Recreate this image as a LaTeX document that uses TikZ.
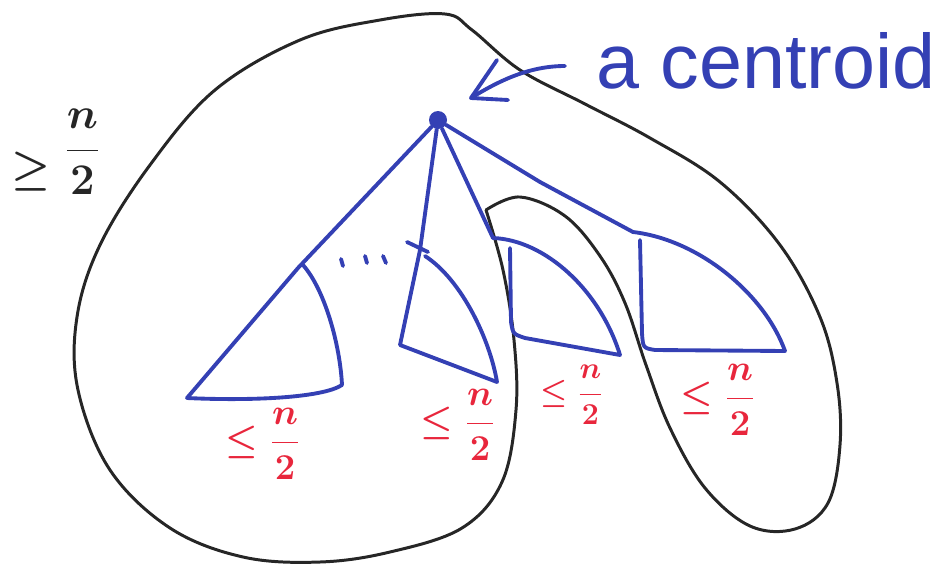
\documentclass[tikz,border=0pt]{standalone}
\usepackage{fontspec}
\newfontfamily\handfont{Liberation Sans}
\definecolor{penblue}{RGB}{52,64,180}
\definecolor{penred}{RGB}{232,38,60}
\definecolor{penblack}{RGB}{38,38,38}
\begin{document}
\begin{tikzpicture}[x=0.02cm,y=-0.02cm,
  blueline/.style={penblue, line width=2.2pt, line cap=round, line join=round},
  blackline/.style={penblack, line width=1.7pt, line cap=round, line join=round},
  redlabel/.style={text=penred, inner sep=0pt},
  blacklabel/.style={text=penblack, inner sep=0pt},
]
\useasboundingbox (0,0) rectangle (936,565);

% the black closed curve (outer region with the right-hand loop)
\draw[blackline] plot[smooth, tension=0.6] coordinates {
 (486,210) (503,270) (514,340) (516,410) (502,482) (462,528) (390,552)
 (320,562) (243,557) (170,528) (110,470) (78,390) (77,317) (100,245)
 (150,165) (215,90) (300,40) (380,20) (445,14) (472,30) (520,70)
 (585,104) (650,138) (720,182) (780,245) (820,317) (837,383) (840,445)
 (828,503) (795,529) (750,526) (705,488) (670,428) (646,365) (625,303)
 (600,256) (565,216) (520,197) (486,210)};

% centroid
\node[circle, fill=penblue, minimum size=0.36cm, inner sep=0pt] (c) at (438,120) {};

% branch tops
\coordinate (t1) at (298,268);
\coordinate (t2) at (420,250);
\coordinate (t3) at (493,238);
\coordinate (t4) at (633,232);

% subtree 1
\draw[blueline] (c) -- (t1) -- (187,398) .. controls (250,401) and (322,398) .. (342,385)
  .. controls (340,345) and (325,290) .. (303,265);
% subtree 2
\draw[blueline] (c) -- (t2) -- (400,345) -- (497,382)
  .. controls (490,340) and (462,280) .. (425,256);
\draw[blueline] (407,242) -- (428,252);
% dots
\draw[blueline] (341,259) -- (343,266);
\draw[blueline] (365,256) -- (367,263);
\draw[blueline] (383,256) -- (386,263);
% subtree 3
\draw[blueline] (c) -- (t3) .. controls (545,240) and (600,290) .. (620,355)
  -- (525,338) .. controls (513,334) .. (511,322) -- (510,248);
% subtree 4
\draw[blueline] (c) -- (540,182) -- (t4) .. controls (700,240) and (765,295) .. (785,351)
  -- (655,350) .. controls (643,348) .. (642,333) -- (640,240);

% arrow to the centroid
\coordinate (tip) at (471,98);
\coordinate (tail) at (565,66);
\coordinate (barbA) at (497,60);
\coordinate (barbB) at (508,100);
\draw[blueline] (tail) .. controls (530,66) and (500,80) .. (tip);
\draw[blueline] (barbA) -- (tip) -- (barbB);
\node[text=penblue, inner sep=0pt, anchor=base west,
  font=\handfont\fontsize{44}{50}\selectfont] (lab) at (596,88) {a centroid};

% red size labels
\node[redlabel, font=\fontsize{21}{25}\selectfont\boldmath] (r1) at (263,444) {$\displaystyle\leq\frac{n}{2}$};
\node[redlabel, font=\fontsize{20}{24}\selectfont\boldmath] (r2) at (458,425) {$\displaystyle\leq\frac{n}{2}$};
\node[redlabel, font=\fontsize{17}{20}\selectfont\boldmath] (r3) at (572,395) {$\displaystyle\leq\frac{n}{2}$};
\node[redlabel, font=\fontsize{20}{24}\selectfont\boldmath] (r4) at (718,400) {$\displaystyle\leq\frac{n}{2}$};

% black label
\node[blacklabel, font=\fontsize{28}{32}\selectfont\boldmath] (big) at (56,152)
  {$\displaystyle\mathrel{\raisebox{-12pt}{$\displaystyle\geq$}}\frac{n}{2}$};
\end{tikzpicture}
\end{document}
